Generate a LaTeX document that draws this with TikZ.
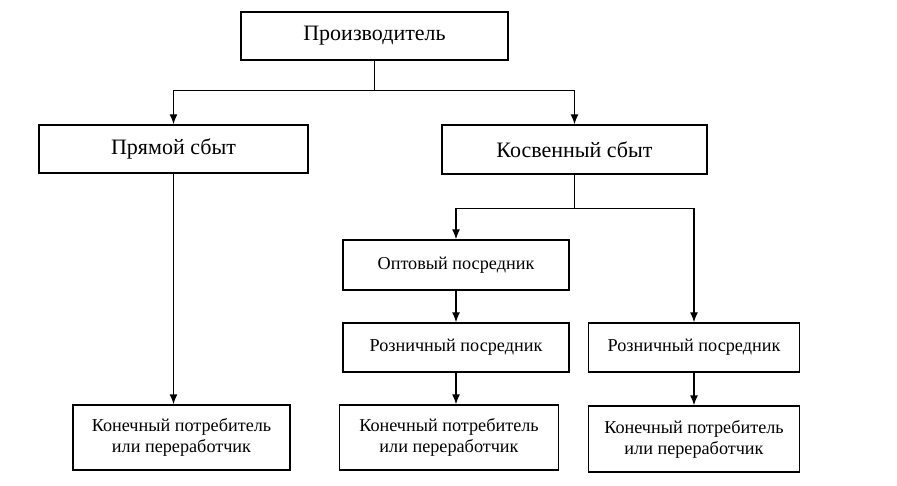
\documentclass[tikz,border=0pt]{standalone}
\usepackage{fontspec}
\setmainfont{Liberation Serif}
\usetikzlibrary{arrows.meta}
\begin{document}
\begin{tikzpicture}[x=1pt,y=-1pt,
  box/.style={draw, line width=1.4pt, inner sep=0pt, align=center},
  bigbox/.style={box, font=\fontsize{22}{26}\selectfont},
  smallbox/.style={box, font=\fontsize{18.2}{21}\selectfont},
  arr/.style={line width=1.4pt, -{Latex[length=10pt,width=8pt]}},
  ln/.style={line width=1.4pt}]
\fill[white] (0,0) rectangle (897,486);
\useasboundingbox (0,0) rectangle (897,486);
\node[bigbox, minimum width=267pt, minimum height=48pt] (prod) at (374.5,36) {Производитель};
\node[bigbox, minimum width=269pt, minimum height=48pt] (pryam) at (173.5,149) {Прямой сбыт};
\node[bigbox, minimum width=265pt, minimum height=49pt] (kosv) at (574.5,149.5) {Косвенный сбыт};
\node[smallbox, minimum width=226pt, minimum height=50pt] (opt) at (456,265) {Оптовый посредник};
\node[smallbox, minimum width=226pt, minimum height=49pt] (roz1) at (456,347.5) {Розничный посредник};
\node[smallbox, minimum width=211pt, minimum height=49pt] (roz2) at (694,347.5) {Розничный посредник};
\node[smallbox, minimum width=217pt, minimum height=65pt] (fin1) at (181.5,437.5) {Конечный потребитель\\или переработчик};
\node[smallbox, minimum width=219pt, minimum height=65pt] (fin2) at (449,437.5) {Конечный потребитель\\или переработчик};
\node[smallbox, minimum width=211pt, minimum height=66pt] (fin3) at (694,439) {Конечный потребитель\\или переработчик};
% from producer
\draw[ln] (prod.south) -- ++(0,30) coordinate (pb);
\draw[arr] (pb) -| (pryam.north);
\draw[arr] (pb) -| (kosv.north);
% direct
\draw[arr] (pryam.south) -- (pryam.south |- fin1.north);
% indirect
\draw[ln] (kosv.south) -- ++(0,34) coordinate (kb);
\draw[arr] (kb) -| (opt.north);
\draw[arr] (kb) -| (roz2.north);
\draw[arr] (opt.south) -- (roz1.north);
\draw[arr] (roz1.south) -- (roz1.south |- fin2.north);
\draw[arr] (roz2.south) -- (roz2.south |- fin3.north);
\end{tikzpicture}
\end{document}
